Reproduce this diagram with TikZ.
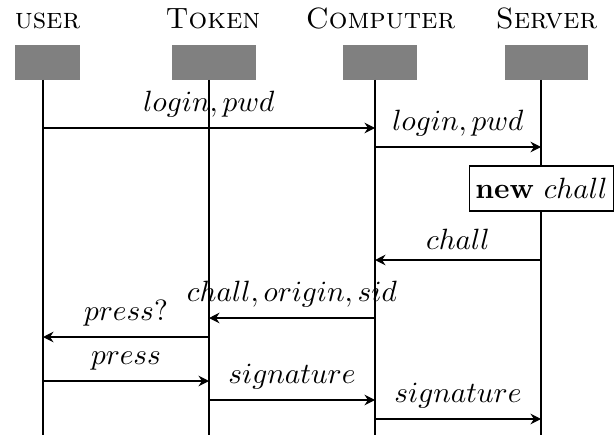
\documentclass[tikz,border=0pt]{standalone}
\usetikzlibrary{arrows.meta}
\begin{document}
\begin{tikzpicture}[x=0.341pt,y=-0.341pt,
  inst/.style={anchor=base,inner sep=0pt},
  instbox/.style={fill=gray,draw=none},
  life/.style={draw=black,line width=0.4pt},
  msg/.style={draw=black,line width=0.4pt,-{Stealth[length=3.6pt,width=3.6pt,inset=1.2pt]}},
  lbl/.style={midway,above},
  actbox/.style={draw=black,fill=white,line width=0.4pt,inner xsep=2pt,minimum height=15.3pt}
]
\useasboundingbox (0,0) rectangle (615,435);
% instance labels
\node[inst] (tu) at (47.5,29) {\textsc{user}};
\node[inst] (tt) at (213,29) {\textsc{Token}};
\node[inst] (tc) at (380.5,29) {\textsc{Computer}};
\node[inst] (ts) at (546.5,29) {\textsc{Server}};
% grey blocks
\path[instbox] (15,45) rectangle (80,80);
\path[instbox] (172,45) rectangle (256,80);
\path[instbox] (343,45) rectangle (417,80);
\path[instbox] (505,45) rectangle (588,80);
% lifeline ends
\coordinate (u0) at (43,80);   \coordinate (uE) at (43,435);
\coordinate (t0) at (209,80);  \coordinate (tE) at (209,435);
\coordinate (c0) at (375,80);  \coordinate (cE) at (375,435);
\coordinate (s0) at (541,80);  \coordinate (sE) at (541,435);
\draw[life] (u0) -- (uE);
\draw[life] (t0) -- (tE);
\draw[life] (c0) -- (cE);
\draw[life] (s0) -- (sE);
% message points
\coordinate (u1) at (43,128);  \coordinate (c1) at (375,128);
\coordinate (c2) at (375,147); \coordinate (s2) at (541,147);
\coordinate (s4) at (541,260); \coordinate (c4) at (375,260);
\coordinate (c5) at (375,318); \coordinate (t5) at (209,318);
\coordinate (t6) at (209,337); \coordinate (u6) at (43,337);
\coordinate (u7) at (43,381);  \coordinate (t7) at (209,381);
\coordinate (t8) at (209,400); \coordinate (c8) at (375,400);
\coordinate (c9) at (375,419); \coordinate (s9) at (541,419);
% messages
\draw[msg] (u1) -- (c1) node[lbl] {$login, pwd$};
\draw[msg] (c2) -- (s2) node[lbl] {$login, pwd$};
\node[actbox] (nc) at (541.5,188.5) {\textbf{new} $chall$};
\draw[msg] (s4) -- (c4) node[lbl] {$chall$};
\draw[msg] (c5) -- (t5) node[lbl] {$chall, origin, sid$};
\draw[msg] (t6) -- (u6) node[lbl] {$press?$};
\draw[msg] (u7) -- (t7) node[lbl] {$press$};
\draw[msg] (t8) -- (c8) node[lbl] {$signature$};
\draw[msg] (c9) -- (s9) node[lbl] {$signature$};
\end{tikzpicture}
\end{document}
